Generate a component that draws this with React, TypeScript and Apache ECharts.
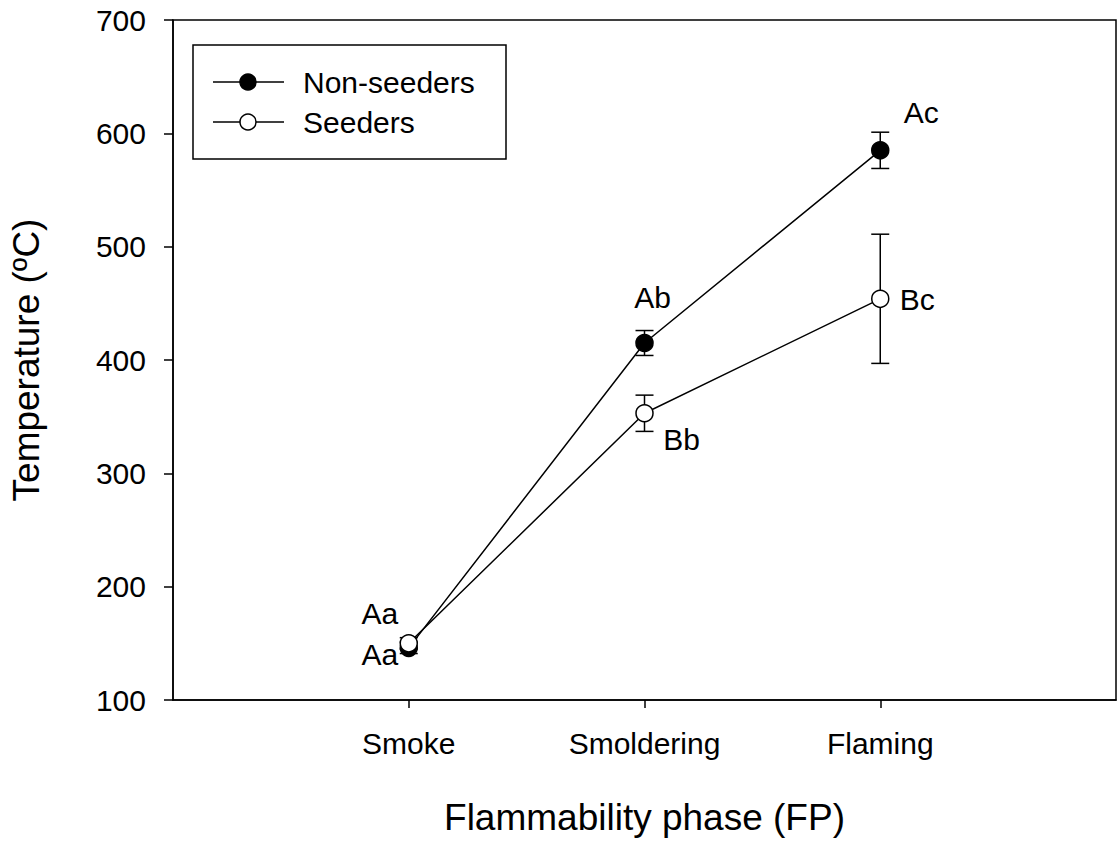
import React, { useEffect, useRef } from "react";
import * as echarts from "echarts";

const phases = ["Smoke", "Smoldering", "Flaming"];
const phasePos = [1, 2, 3];
const nonSeeders = [146, 415, 585];
const nonSeedersErr = [5, 11, 16];
const nonSeedersLetters = ["Aa", "Ab", "Ac"];
const seeders = [150, 353, 454];
const seedersErr = [5, 16, 57];
const seedersLetters = ["Aa", "Bb", "Bc"];
const yTicks = { min: 100, max: 700, interval: 100 };

const FONT = "'Liberation Sans', Arial, Helvetica, sans-serif";

export default function App() {
  const ref = useRef<HTMLDivElement>(null);
  useEffect(() => {
    if (!ref.current) return;
    const chart = echarts.init(ref.current, null, { renderer: "svg" });

    const nsOffsets = [[-29, 7], [8, -46], [41, -38]];
    const sOffsets = [[-29, -30], [37, 26], [37, 1]];

    const errData = (vals: number[], errs: number[]) =>
      vals.map((v, i) => [phasePos[i], v - errs[i], v + errs[i]]);

    const errSeries = (name: string, vals: number[], errs: number[]) => ({
      type: "custom",
      name,
      z: 1,
      silent: true,
      data: errData(vals, errs),
      renderItem: (params: any, api: any) => {
        const x = api.value(0);
        const lo = api.coord([x, api.value(1)]);
        const hi = api.coord([x, api.value(2)]);
        const hw = 9;
        const st = { stroke: "#000", lineWidth: 1.5 };
        return {
          type: "group",
          children: [
            { type: "line", shape: { x1: lo[0], y1: lo[1], x2: hi[0], y2: hi[1] }, style: st },
            { type: "line", shape: { x1: lo[0] - hw, y1: lo[1], x2: lo[0] + hw, y2: lo[1] }, style: st },
            { type: "line", shape: { x1: hi[0] - hw, y1: hi[1], x2: hi[0] + hw, y2: hi[1] }, style: st },
          ],
        };
      },
    });

    const lineSeries = (name: string, vals: number[], letters: string[], offsets: number[][], fill: string) => ({
      type: "line",
      name,
      z: 3,
      symbol: "circle",
      symbolSize: 17,
      lineStyle: { color: "#000", width: 1.5 },
      itemStyle: { color: fill, borderColor: "#000", borderWidth: 1.5 },
      label: {
        show: true,
        position: "inside",
        fontSize: 30,
        fontFamily: FONT,
        color: "#000",
        align: "center",
        verticalAlign: "middle",
      },
      data: vals.map((v, i) => ({
        value: [phasePos[i], v],
        label: { formatter: letters[i], offset: offsets[i] },
      })),
    });

    const legendY1 = 82;
    const legendY2 = 122;
    const legendText = { fontSize: 30, fontFamily: FONT, fill: "#000" };

    chart.setOption({
      animation: false,
      backgroundColor: "#fff",
      grid: {
        left: 172,
        top: 20,
        right: 1,
        bottom: 141,
        show: true,
        borderColor: "#000",
        borderWidth: 1.5,
        backgroundColor: "transparent",
      },
      xAxis: {
        type: "value",
        min: 0,
        max: 4,
        interval: 1,
        name: "Flammability phase (FP)",
        nameLocation: "middle",
        nameGap: 99,
        nameTextStyle: { fontSize: 37, fontFamily: FONT, color: "#000" },
        splitLine: { show: false },
        axisLine: { lineStyle: { color: "#000", width: 1.5 } },
        axisTick: { show: true, length: 8, lineStyle: { color: "#000", width: 1.5 }, customValues: phasePos },
        axisLabel: {
          customValues: phasePos,
          margin: 28,
          fontSize: 30,
          fontFamily: FONT,
          color: "#000",
          formatter: (v: number) => {
            const i = phasePos.indexOf(v);
            return i >= 0 ? phases[i] : "";
          },
        },
      },
      yAxis: {
        type: "value",
        min: yTicks.min,
        max: yTicks.max,
        interval: yTicks.interval,
        name: "Temperature (ºC)",
        nameLocation: "middle",
        nameGap: 128,
        nameTextStyle: { fontSize: 37, fontFamily: FONT, color: "#000" },
        splitLine: { show: false },
        axisLine: { show: true, lineStyle: { color: "#000", width: 1.5 } },
        axisTick: { show: true, length: 9, lineStyle: { color: "#000", width: 1.5 } },
        axisLabel: { margin: 27, fontSize: 30, fontFamily: FONT, color: "#000" },
      },
      graphic: [
        {
          type: "rect",
          shape: { x: 193, y: 45, width: 313, height: 114 },
          style: { fill: "#fff", stroke: "#000", lineWidth: 1.5 },
          z: 10,
        },
        { type: "line", shape: { x1: 213, y1: legendY1, x2: 284, y2: legendY1 }, style: { stroke: "#000", lineWidth: 1.5 }, z: 11 },
        { type: "circle", shape: { cx: 248, cy: legendY1, r: 8 }, style: { fill: "#000", stroke: "#000", lineWidth: 1.5 }, z: 12 },
        { type: "text", x: 303, y: legendY1, style: { ...legendText, text: "Non-seeders", verticalAlign: "middle" }, z: 12 },
        { type: "line", shape: { x1: 213, y1: legendY2, x2: 284, y2: legendY2 }, style: { stroke: "#000", lineWidth: 1.5 }, z: 11 },
        { type: "circle", shape: { cx: 248, cy: legendY2, r: 8 }, style: { fill: "#fff", stroke: "#000", lineWidth: 1.5 }, z: 12 },
        { type: "text", x: 303, y: legendY2, style: { ...legendText, text: "Seeders", verticalAlign: "middle" }, z: 12 },
      ],
      series: [
        errSeries("Non-seeders error", nonSeeders, nonSeedersErr),
        errSeries("Seeders error", seeders, seedersErr),
        lineSeries("Non-seeders", nonSeeders, nonSeedersLetters, nsOffsets, "#000"),
        lineSeries("Seeders", seeders, seedersLetters, sOffsets, "#fff"),
      ],
    });
    return () => chart.dispose();
  }, []);
  return (
    <div
      ref={ref}
      style={{ position: "fixed", left: 0, top: 0, width: 1117, height: 841, background: "#fff" }}
    />
  );
}
